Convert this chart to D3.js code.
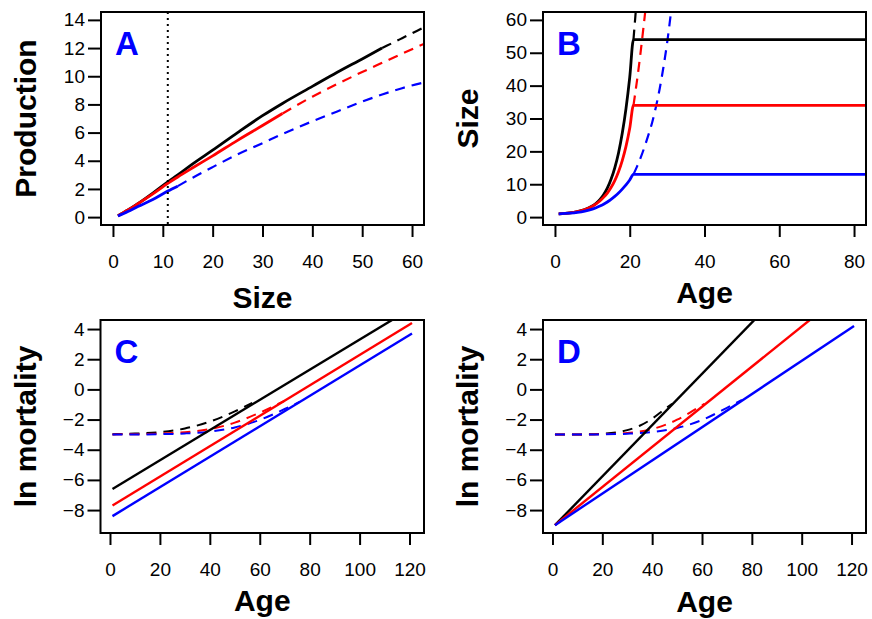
<!DOCTYPE html>
<html>
<head>
<meta charset="utf-8">
<script src="https://cdn.jsdelivr.net/npm/d3@7"></script>
<style>
  body { margin: 0; background: #fff; }
  svg { font-family: "Liberation Sans", Arial, sans-serif; }
</style>
</head>
<body>
<div id="chart"></div>
<script>
// Figure size
const width = 872;
const height = 619;

// ---- Panel A: production vs size ----
const sizeA = [1, 3, 5, 8, 11, 13, 16, 20, 25, 30, 34, 40, 45, 50, 54, 58, 64];
const prodBlack = [0.1, 0.5, 0.95, 1.7, 2.5, 3.0, 3.78, 4.75, 6.0, 7.2, 8.07, 9.28, 10.28, 11.23, 12.0, 12.7, 13.75];
const prodRed = [0.1, 0.5, 0.95, 1.65, 2.4, 2.85, 3.5, 4.35, 5.45, 6.5, 7.35, 8.55, 9.45, 10.3, 10.95, 11.6, 12.55];
const prodBlue = [0.08, 0.4, 0.75, 1.25, 1.85, 2.2, 2.8, 3.55, 4.45, 5.25, 5.9, 6.8, 7.5, 8.2, 8.7, 9.15, 9.7];
const solidEndA = [54, 34, 13];   // size where each solid line turns dashed
const maturitySize = 11;          // dotted vertical line

// ---- Panel B: size vs age ----
const ageB = [1, 4, 6, 8, 10, 11, 12, 13, 14, 15, 16, 17, 18, 19, 20, 21];
const sizeBlack = [1, 1.3, 1.7, 2.3, 3.4, 4.2, 5.3, 6.8, 8.8, 11.5, 15, 19.5, 25.5, 33, 42.5, 54];
const sizeRed = [1, 1.3, 1.7, 2.3, 3.3, 4.0, 4.9, 6.0, 7.3, 9, 11.1, 13.8, 17.2, 21.5, 27, 34];
const sizeBlue = [1, 1.2, 1.45, 1.85, 2.45, 2.85, 3.35, 3.9, 4.6, 5.4, 6.3, 7.3, 8.5, 9.8, 11.3, 13];
const plateauAge = [21, 84];
const dashAgeBBlack = [21, 21.5, 22];
const dashBBlack = [54, 61, 68];
const dashAgeBRed = [21, 22, 23, 24, 24.5];
const dashBRed = [34, 42, 51, 61, 66];
const dashAgeBBlue = [21, 22, 23, 24, 25, 26, 27, 28, 29, 30, 31];
const dashBBlue = [13, 15.5, 18.3, 21.5, 25, 28.8, 33.5, 39, 45.5, 53, 62];

// ---- Panel C: ln mortality vs age ----
const ageLine = [1, 121];
const lnMortCBlack = [-6.6, 5.4];
const lnMortCRed = [-7.7, 4.4];
const lnMortCBlue = [-8.4, 3.7];
const dashAgeCBlack = [1, 10, 20, 30, 40, 50, 57];
const dashCBlack = [-2.97, -2.93, -2.83, -2.59, -2.14, -1.46, -0.9];
const dashAgeCRed = [1, 10, 20, 30, 40, 50, 60, 70];
const dashCRed = [-2.99, -2.97, -2.94, -2.84, -2.63, -2.2, -1.54, -0.75];
const dashAgeCBlue = [1, 10, 20, 30, 40, 50, 60, 70, 76];
const dashCBlue = [-2.99, -2.99, -2.97, -2.92, -2.8, -2.52, -2.02, -1.3, -0.82];

// ---- Panel D: ln mortality vs age ----
const lnMortDBlack = [-9, 11.4];
const lnMortDRed = [-9, 6.96];
const lnMortDBlue = [-9, 4.2];
const dashAgeDBlack = [1, 10, 20, 30, 35, 40, 45, 48];
const dashDBlack = [-2.99, -2.99, -2.94, -2.70, -2.41, -1.94, -1.31, -0.95];
const dashAgeDRed = [1, 10, 20, 30, 40, 50, 55, 61];
const dashDRed = [-2.99, -2.99, -2.97, -2.89, -2.63, -2.01, -1.55, -0.95];
const dashAgeDBlue = [1, 10, 20, 30, 40, 50, 60, 70, 76];
const dashDBlue = [-2.99, -2.99, -2.98, -2.94, -2.83, -2.56, -2.03, -1.22, -0.7];

const colors = ["#000000", "#ff0000", "#0000ff"];

const svg = d3.select("#chart").append("svg")
  .attr("width", width)
  .attr("height", height);

// zip two arrays into points
const zip = (xs, ys) => xs.map((v, i) => [v, ys[i]]);

// Draws the frame, axes and labels of one panel, returns scales + plot group
function makePanel(p) {
  const x = d3.scaleLinear().domain(p.xDomain).range([p.left, p.right]);
  const y = d3.scaleLinear().domain(p.yDomain).range([p.bottom, p.top]);

  const clipId = "clip-" + p.letter;
  svg.append("clipPath").attr("id", clipId)
    .append("rect")
    .attr("x", p.left).attr("y", p.top)
    .attr("width", p.right - p.left).attr("height", p.bottom - p.top);

  const plot = svg.append("g").attr("clip-path", `url(#${clipId})`);

  // x axis (ticks only, sitting just under the box)
  const xAxis = svg.append("g")
    .attr("transform", `translate(0,${p.bottom + 1})`)
    .call(d3.axisBottom(x).tickValues(p.xTicks).tickSize(11).tickPadding(18));
  // y axis
  const yAxis = svg.append("g")
    .attr("transform", `translate(${p.left},0)`)
    .call(d3.axisLeft(y).tickValues(p.yTicks).tickSize(13).tickPadding(3));

  [xAxis, yAxis].forEach(a => {
    a.select(".domain").remove();
    a.selectAll(".tick line").attr("stroke", "#000").attr("stroke-width", 2);
    a.selectAll(".tick text")
      .attr("fill", "#000")
      .style("font-size", "19px")
      .style("font-family", "'Liberation Sans', Arial, sans-serif");
  });

  // box
  svg.append("rect")
    .attr("x", p.left).attr("y", p.top)
    .attr("width", p.right - p.left).attr("height", p.bottom - p.top)
    .attr("fill", "none").attr("stroke", "#000").attr("stroke-width", 2);

  // axis titles
  svg.append("text")
    .attr("x", (p.left + p.right) / 2)
    .attr("y", p.xTitleY)
    .attr("text-anchor", "middle")
    .style("font-size", "30px").style("font-weight", "bold")
    .text(p.xTitle);

  svg.append("text")
    .attr("transform", `translate(${p.left - 65},${(p.top + p.bottom) / 2}) rotate(-90)`)
    .attr("text-anchor", "middle")
    .style("font-size", "30px").style("font-weight", "bold")
    .text(p.yTitle);

  // panel letter
  svg.append("text")
    .attr("x", p.left + 14)
    .attr("y", p.top + 42.5)
    .attr("fill", "#0000ff")
    .style("font-size", "33px").style("font-weight", "bold")
    .text(p.letter);

  return { x, y, plot };
}

function drawLine(panel, pts, color, dashed, lw) {
  const line = d3.line()
    .x(d => panel.x(d[0]))
    .y(d => panel.y(d[1]))
    .curve(d3.curveMonotoneX);
  panel.plot.append("path")
    .attr("d", line(pts))
    .attr("fill", "none")
    .attr("stroke", color)
    .attr("stroke-width", lw)
    .attr("stroke-dasharray", dashed ? "10,7" : null)
    .attr("stroke-linecap", "butt");
}

// ---------- Panel A ----------
const pA = makePanel({
  letter: "A", left: 101, right: 424, top: 12, bottom: 225,
  xDomain: [-2.4, 62.4], yDomain: [-0.56, 14.56],
  xTicks: d3.range(0, 61, 10), yTicks: d3.range(0, 15, 2),
  xTitle: "Size", yTitle: "Production", xTitleY: 308
});
[prodBlack, prodRed, prodBlue].forEach((vals, i) => {
  const pts = zip(sizeA, vals);
  drawLine(pA, pts.filter(d => d[0] >= solidEndA[i]), colors[i], true, 2.2);
  drawLine(pA, pts.filter(d => d[0] <= solidEndA[i]), colors[i], false, 2.8);
});
pA.plot.append("line")
  .attr("x1", pA.x(maturitySize)).attr("x2", pA.x(maturitySize))
  .attr("y1", 12).attr("y2", 225)
  .attr("stroke", "#000").attr("stroke-width", 2)
  .attr("stroke-dasharray", "2,4");

// ---------- Panel B ----------
const pB = makePanel({
  letter: "B", left: 543, right: 866, top: 12, bottom: 225,
  xDomain: [-3.2, 83.2], yDomain: [-2.4, 62.4],
  xTicks: d3.range(0, 81, 20), yTicks: d3.range(0, 61, 10),
  xTitle: "Age", yTitle: "Size", xTitleY: 303
});
const dashB = [zip(dashAgeBBlack, dashBBlack), zip(dashAgeBRed, dashBRed), zip(dashAgeBBlue, dashBBlue)];
dashB.forEach((pts, i) => drawLine(pB, pts, colors[i], true, 2.2));
[sizeBlack, sizeRed, sizeBlue].forEach((vals, i) => {
  const last = vals[vals.length - 1];
  drawLine(pB, zip(ageB, vals).concat(plateauAge.slice(1).map(a => [a, last])), colors[i], false, 2.8);
});

// ---------- Panel C ----------
const pC = makePanel({
  letter: "C", left: 100.5, right: 424, top: 320, bottom: 533,
  xDomain: [-3.8, 125.8], yDomain: [-9.52, 4.6],
  xTicks: d3.range(0, 121, 20), yTicks: d3.range(-8, 5, 2),
  xTitle: "Age", yTitle: "ln mortality", xTitleY: 611
});
[zip(dashAgeCBlack, dashCBlack), zip(dashAgeCRed, dashCRed), zip(dashAgeCBlue, dashCBlue)]
  .forEach((pts, i) => drawLine(pC, pts, colors[i], true, 2));
[lnMortCBlack, lnMortCRed, lnMortCBlue]
  .forEach((vals, i) => drawLine(pC, zip(ageLine, vals), colors[i], false, 2.4));

// ---------- Panel D ----------
const pD = makePanel({
  letter: "D", left: 543, right: 866, top: 320, bottom: 533,
  xDomain: [-3.8, 125.8], yDomain: [-9.52, 4.6],
  xTicks: d3.range(0, 121, 20), yTicks: d3.range(-8, 5, 2),
  xTitle: "Age", yTitle: "ln mortality", xTitleY: 612
});
[zip(dashAgeDBlack, dashDBlack), zip(dashAgeDRed, dashDRed), zip(dashAgeDBlue, dashDBlue)]
  .forEach((pts, i) => drawLine(pD, pts, colors[i], true, 2));
[lnMortDBlack, lnMortDRed, lnMortDBlue]
  .forEach((vals, i) => drawLine(pD, zip(ageLine, vals), colors[i], false, 2.4));
</script>
</body>
</html>
